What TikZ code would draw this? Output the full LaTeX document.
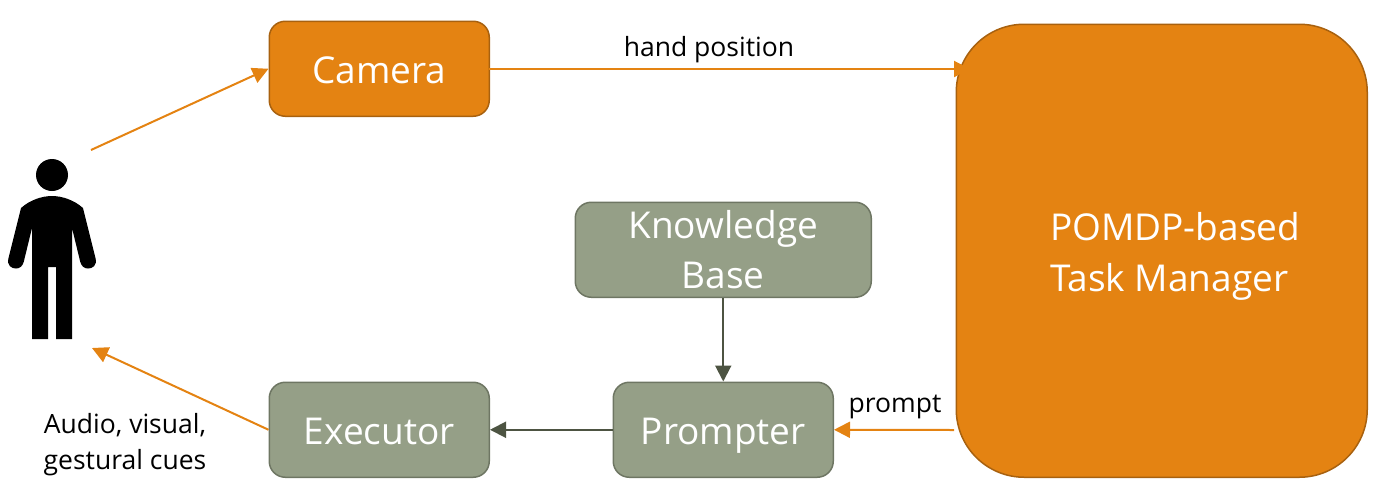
\documentclass[tikz,border=0pt]{standalone}
\usepackage{fontspec}
\setmainfont{Open Sans}
\usetikzlibrary{arrows.meta}
\definecolor{orangefill}{HTML}{E48312}
\definecolor{orangeedge}{HTML}{A8610F}
\definecolor{greenfill}{HTML}{959F87}
\definecolor{greenedge}{HTML}{6E7663}
\definecolor{greenline}{HTML}{4D5442}
\tikzset{
  x=1pt,y=-1pt,
  boxbase/.style={rounded corners=16pt,line width=1.5pt,text=white,font=\fontsize{37}{50}\selectfont,align=center,inner sep=0pt,anchor=north west},
  onelinebox/.style={text height=30pt,text depth=0pt},
  orangebox/.style={boxbase,draw=orangeedge,fill=orangefill},
  greenbox/.style={boxbase,draw=greenedge,fill=greenfill},
  orangearrow/.style={draw=orangefill,line width=2pt,-{Triangle[length=16pt,width=16pt]}},
  greenarrow/.style={draw=greenline,line width=2pt,-{Triangle[length=16pt,width=16pt]}},
  lbl/.style={text=black,font=\fontsize{26.5}{36}\selectfont,align=center,inner sep=0pt},
}
\begin{document}
\begin{tikzpicture}
\useasboundingbox (0,0) rectangle (1384,499);
\node[orangebox,onelinebox,minimum width=220pt,minimum height=95pt] (camera) at (268.5,20.5) {Camera};
\node[orangebox,rounded corners=68pt,minimum width=411pt,minimum height=453pt] (manager) at (955.5,23.5) {};
\node[text=white,font=\fontsize{37}{51}\selectfont,align=left,inner sep=0pt,anchor=west] (managerlabel) at (1050,256) {POMDP-based\\Task Manager};
\node[greenbox,minimum width=296pt,minimum height=95pt] (kb) at (574.5,201.5) {Knowledge\\Base};
\node[greenbox,onelinebox,minimum width=220pt,minimum height=95pt] (prompter) at (612.5,381.5) {Prompter};
\node[greenbox,onelinebox,minimum width=220pt,minimum height=95pt] (executor) at (268.5,381.5) {Executor};
% person
\fill[black] (52,175) circle (16);
\fill[black]
  (21,208) .. controls (30,200) and (42,196) .. (52,196)
  .. controls (62,196) and (74,200) .. (83,208)
  -- (95.5,258) .. controls (97.5,266) and (92,268.5) .. (88,268.5)
  .. controls (84,268.5) and (81.5,266) .. (80.3,262)
  -- (72,228) -- (72,339) -- (56,339) -- (56,267) -- (48,267) -- (48,339) -- (32,339) -- (32,228)
  -- (23.7,262) .. controls (22.5,266) and (20,268.5) .. (16,268.5)
  .. controls (12,268.5) and (6.5,266) .. (8.5,258)
  -- cycle;
\coordinate (personout) at (91,150);
\coordinate (personin) at (92,348);
\coordinate (camright) at (489,69);
\coordinate (mgrin) at (970,69);
\coordinate (mgrout) at (954,430);
\draw[orangearrow] (personout) -- (camera.west);
\draw[orangearrow] (camright) -- (mgrin);
\draw[orangearrow] (mgrout) -- (prompter.east);
\draw[greenarrow] (kb.south) -- (prompter.north);
\draw[greenarrow] (prompter.west) -- (executor.east);
\draw[orangearrow] (executor.west) -- (personin);
\node[lbl] (handlabel) at (709,50) {hand position};
\node[lbl] (promptlabel) at (895,407) {prompt};
\node[lbl] (cuelabel) at (125,445) {Audio, visual,\\gestural cues};
\end{tikzpicture}
\end{document}
